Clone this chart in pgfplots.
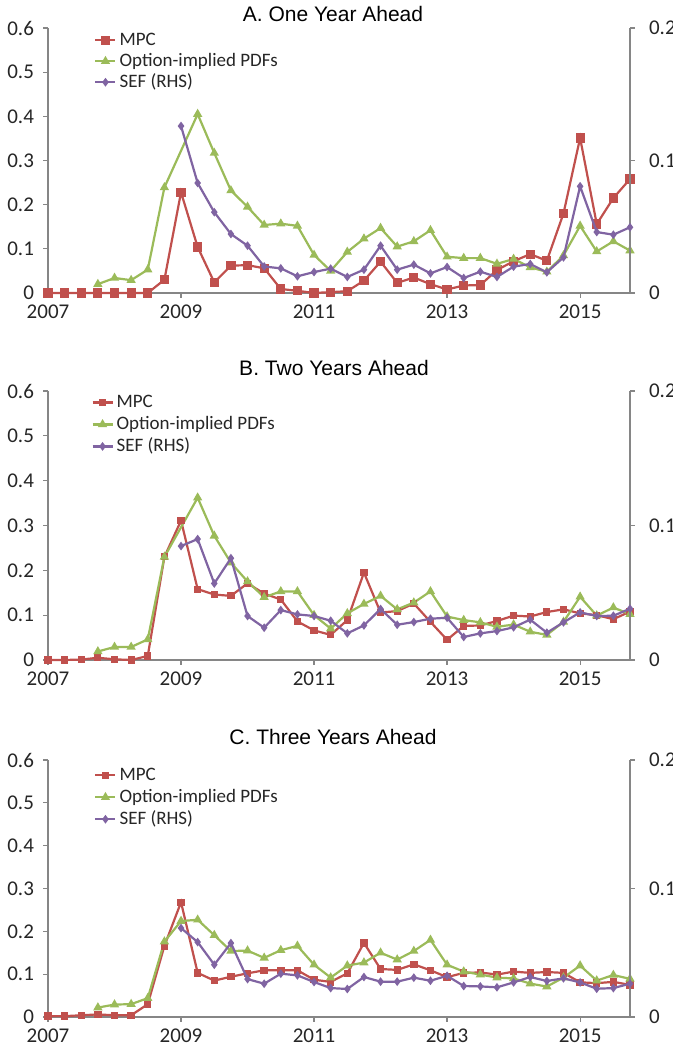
\documentclass[border=0pt]{standalone}
\usepackage{fontspec}
\setmainfont{Carlito}
\newfontfamily\titlefont{Liberation Sans}
\usepackage{pgfplots}
\pgfplotsset{compat=1.18}

\definecolor{mpc}{HTML}{C0504D}
\definecolor{opt}{HTML}{9BBB59}
\definecolor{sef}{HTML}{8064A2}
\definecolor{axgray}{HTML}{868686}

\pgfplotsset{
  panel/.style={
    width=291pt, scale only axis, xmin=0, xmax=35, clip=false,
    axis line style={axgray, line width=0.6pt},
    tick style={axgray, line width=0.6pt},
    tick align=outside, major tick length=2.5pt,
    ticklabel style={font=\fontsize{10.5}{12}\selectfont, text=black!85},
  },
  lpanel/.style={
    panel, ymin=0, ymax=0.6,
    axis y line*=left, axis x line*=bottom,
    xtick={0,8,16,24,32}, xticklabels={2007,2009,2011,2013,2015},
    ytick={0,0.1,0.2,0.3,0.4,0.5,0.6},
    yticklabels={0,0.1,0.2,0.3,0.4,0.5,0.6},
    yticklabel style={xshift=-1pt},
    legend cell align=left,
    legend style={draw=none, fill=none, anchor=north west, inner sep=0pt,
      font=\fontsize{9.5}{11}\selectfont, text=black!85,
      nodes={text height=6.8pt, text depth=2pt, inner xsep=1.5pt, inner ysep=#1}},
    legend image code/.code={
      \draw[mark repeat=2, mark phase=2, ##1] plot coordinates {(0pt,0pt) (5pt,0pt) (10pt,0pt)};},
  },
  rpanel/.style={
    panel, ymin=0, ymax=0.2,
    axis y line*=right, axis x line=none, xtick=\empty,
    ytick={0,0.1,0.2}, yticklabels={0,0.1,0.2},
    yticklabel style={xshift=3.5pt},
  },
  smpc/.style={mpc, line width=1.1pt, mark=square*, mark size=#1, mark options={solid}},
  sopt/.style={opt, line width=1.1pt, mark=triangle*, mark size=1.6pt, mark options={solid}},
  ssef/.style={sef, line width=1.1pt, mark=diamond*, mark size=1.3pt, mark options={solid}},
}

\begin{document}
\begin{tikzpicture}

% ---------------- A. One Year Ahead
\begin{axis}[lpanel=0.85pt, height=132.5pt, at={(24pt,379pt)}, anchor=south west,
  legend style={at={(0.079,0.995)}}]
\addplot[smpc=1.75pt] coordinates {(0,0) (1,0) (2,0) (3,0) (4,0) (5,0) (6,0) (7,0.030) (8,0.228) (9,0.104) (10,0.024) (11,0.062) (12,0.063) (13,0.056) (14,0.009) (15,0.005) (16,0.0) (17,0.002) (18,0.004) (19,0.028) (20,0.071) (21,0.023) (22,0.035) (23,0.020) (24,0.008) (25,0.017) (26,0.018) (27,0.052) (28,0.072) (29,0.088) (30,0.073) (31,0.180) (32,0.351) (33,0.156) (34,0.215) (35,0.258)};
\addlegendentry{MPC}
\addplot[sopt] coordinates {(3,0.020) (4,0.034) (5,0.029) (6,0.053) (7,0.239) (9,0.405) (10,0.317) (11,0.232) (12,0.195) (13,0.154) (14,0.157) (15,0.152) (16,0.086) (17,0.050) (18,0.093) (19,0.123) (20,0.147) (21,0.105) (22,0.117) (23,0.142) (24,0.082) (25,0.079) (26,0.079) (27,0.066) (28,0.077) (29,0.058) (30,0.048) (31,0.085) (32,0.152) (33,0.094) (34,0.117) (35,0.096)};
\addlegendentry{Option-implied PDFs}
\addlegendimage{ssef}
\addlegendentry{SEF (RHS)}
\end{axis}
\begin{axis}[rpanel, height=132.5pt, at={(24pt,379pt)}, anchor=south west]
\addplot[ssef] coordinates {(8,0.126) (9,0.083) (10,0.061) (11,0.0445) (12,0.0357) (13,0.020) (14,0.0186) (15,0.0126) (16,0.0158) (17,0.0184) (18,0.0121) (19,0.0176) (20,0.0357) (21,0.0176) (22,0.0214) (23,0.0148) (24,0.0196) (25,0.0113) (26,0.0161) (27,0.0121) (28,0.0199) (29,0.0219) (30,0.0156) (31,0.0269) (32,0.0805) (33,0.046) (34,0.044) (35,0.0496)};
\end{axis}

% ---------------- B. Two Years Ahead
\begin{axis}[lpanel=1.1pt, height=134.5pt, at={(24pt,195.5pt)}, anchor=south west,
  legend style={at={(0.074,1.0)}}]
\addplot[smpc=1.25pt] coordinates {(0,0) (1,0) (2,0.001) (3,0.005) (4,0.0015) (5,0) (6,0.009) (7,0.230) (8,0.311) (9,0.158) (10,0.146) (11,0.143) (12,0.171) (13,0.148) (14,0.135) (15,0.086) (16,0.066) (17,0.056) (18,0.089) (19,0.195) (20,0.106) (21,0.109) (22,0.126) (23,0.085) (24,0.045) (25,0.076) (26,0.077) (27,0.087) (28,0.099) (29,0.097) (30,0.107) (31,0.113) (32,0.104) (33,0.100) (34,0.091) (35,0.108)};
\addlegendentry{MPC}
\addplot[sopt] coordinates {(3,0.019) (4,0.029) (5,0.029) (6,0.046) (7,0.230) (9,0.362) (10,0.277) (11,0.217) (12,0.175) (13,0.140) (14,0.153) (15,0.153) (16,0.100) (17,0.070) (18,0.104) (19,0.125) (20,0.143) (21,0.113) (22,0.128) (23,0.153) (24,0.097) (25,0.089) (26,0.084) (27,0.074) (28,0.079) (29,0.063) (30,0.056) (31,0.085) (32,0.141) (33,0.099) (34,0.117) (35,0.102)};
\addlegendentry{Option-implied PDFs}
\addlegendimage{ssef}
\addlegendentry{SEF (RHS)}
\end{axis}
\begin{axis}[rpanel, height=134.5pt, at={(24pt,195.5pt)}, anchor=south west]
\addplot[ssef] coordinates {(8,0.0847) (9,0.0899) (10,0.0569) (11,0.0757) (12,0.0327) (13,0.024) (14,0.0371) (15,0.0339) (16,0.0327) (17,0.0292) (18,0.0198) (19,0.0257) (20,0.0379) (21,0.0262) (22,0.0282) (23,0.0307) (24,0.0314) (25,0.0171) (26,0.0198) (27,0.0215) (28,0.0243) (29,0.0300) (30,0.0203) (31,0.0280) (32,0.0354) (33,0.0327) (34,0.0329) (35,0.0381)};
\end{axis}

% ---------------- C. Three Years Ahead
\begin{axis}[lpanel=1.1pt, height=128.5pt, at={(24pt,17pt)}, anchor=south west,
  legend style={at={(0.079,0.985)}}]
\addplot[smpc=1.3pt] coordinates {(0,0.002) (1,0.002) (2,0.004) (3,0.006) (4,0.004) (5,0.004) (6,0.030) (7,0.166) (8,0.268) (9,0.103) (10,0.085) (11,0.094) (12,0.102) (13,0.109) (14,0.109) (15,0.109) (16,0.087) (17,0.082) (18,0.102) (19,0.173) (20,0.112) (21,0.110) (22,0.123) (23,0.109) (24,0.093) (25,0.103) (26,0.104) (27,0.099) (28,0.106) (29,0.103) (30,0.105) (31,0.103) (32,0.081) (33,0.079) (34,0.082) (35,0.075)};
\addlegendentry{MPC}
\addplot[sopt] coordinates {(3,0.022) (4,0.029) (5,0.030) (6,0.044) (7,0.176) (8,0.224) (9,0.227) (10,0.191) (11,0.154) (12,0.155) (13,0.138) (14,0.156) (15,0.166) (16,0.122) (17,0.092) (18,0.120) (19,0.127) (20,0.150) (21,0.134) (22,0.154) (23,0.180) (24,0.122) (25,0.106) (26,0.099) (27,0.092) (28,0.090) (29,0.078) (30,0.071) (31,0.092) (32,0.120) (33,0.085) (34,0.098) (35,0.089)};
\addlegendentry{Option-implied PDFs}
\addlegendimage{ssef}
\addlegendentry{SEF (RHS)}
\end{axis}
\begin{axis}[rpanel, height=128.5pt, at={(24pt,17pt)}, anchor=south west]
\addplot[ssef] coordinates {(8,0.0692) (9,0.0583) (10,0.0407) (11,0.0575) (12,0.0295) (13,0.0259) (14,0.0337) (15,0.0324) (16,0.0272) (17,0.0225) (18,0.0218) (19,0.0311) (20,0.0275) (21,0.0275) (22,0.0306) (23,0.0282) (24,0.0321) (25,0.0241) (26,0.0238) (27,0.0231) (28,0.0269) (29,0.0311) (30,0.0280) (31,0.0301) (32,0.0269) (33,0.0220) (34,0.0225) (35,0.0259)};
\end{axis}

% panel titles
\node[font=\titlefont\fontsize{10.5}{12}\selectfont] at (166.5pt,518.25pt) {A. One Year Ahead};
\node[font=\titlefont\fontsize{10.5}{12}\selectfont] at (167pt,341.5pt) {B. Two Years Ahead};
\node[font=\titlefont\fontsize{10.5}{12}\selectfont] at (166.5pt,157pt) {C. Three Years Ahead};

\pgfresetboundingbox
\path[use as bounding box] (0pt,0pt) rectangle (336.5pt,525.5pt);
\end{tikzpicture}
\end{document}
